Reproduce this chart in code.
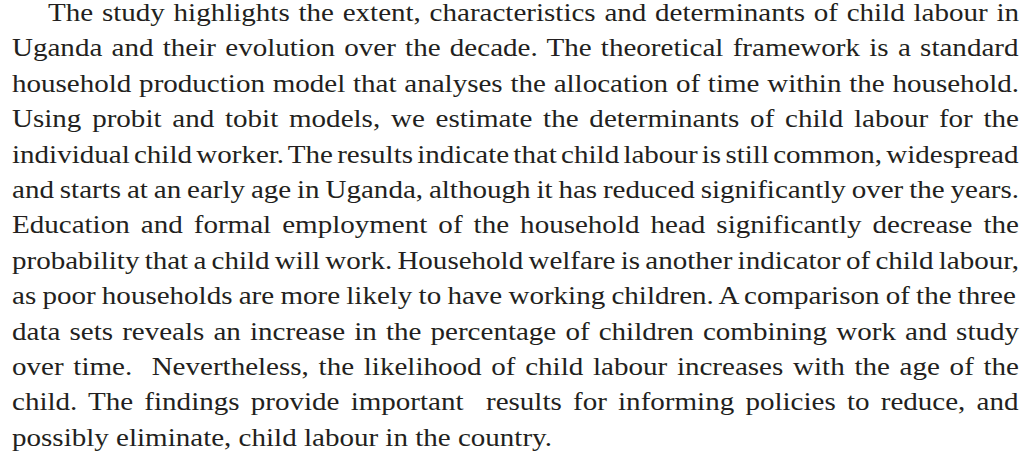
<!DOCTYPE html>
<html>
<head>
<meta charset="utf-8">
<script src="https://cdn.jsdelivr.net/npm/chart.js@4/dist/chart.umd.min.js"></script>
<style>
  html, body { margin: 0; padding: 0; background: #ffffff; }
  body { width: 1029px; height: 457px; overflow: hidden; position: relative; }
  .ln {
    position: absolute; white-space: pre; transform-origin: 0 0;
    font-family: "Liberation Serif", "Times New Roman", serif;
    font-size: 26px; line-height: 35.4px; color: #231f20;
  }
</style>
</head>
<body>
<script>
const lines = [
  "The study highlights the extent, characteristics and determinants of child labour in",
  "Uganda and their evolution over the decade. The theoretical framework is a standard",
  "household production model that analyses the allocation of time within the household.",
  "Using probit and tobit models, we estimate the determinants of child labour for the",
  "individual child worker. The results indicate that child labour is still common, widespread",
  "and starts at an early age in Uganda, although it has reduced significantly over the years.",
  "Education and formal employment of the household head significantly decrease the",
  "probability that a child will work. Household welfare is another indicator of child labour,",
  "as poor households are more likely to have working children. A comparison of the three",
  "data sets reveals an increase in the percentage of children combining work and study",
  "over time.  Nevertheless, the likelihood of child labour increases with the age of the",
  "child. The findings provide important  results for informing policies to reduce, and",
  "possibly eliminate, child labour in the country."
];
const LEFT = 12, RIGHT = 1019, INDENT = 36, LAST_END = 552, TOP = -5, LH = 35.4;
const font = '26px "Liberation Serif"';
const ctx = document.createElement('canvas').getContext('2d');
ctx.font = font;
const lastNat = ctx.measureText(lines[lines.length - 1]).width;
const s = (LAST_END - LEFT) / lastNat;
lines.forEach((t, i) => {
  const d = document.createElement('div');
  d.className = 'ln';
  const x0 = LEFT + (i === 0 ? INDENT : 0);
  d.style.left = x0 + 'px';
  d.style.top = (TOP + i * LH) + 'px';
  let tr = 'scaleX(' + s + ')';
  if (i < lines.length - 1) {
    const nat = ctx.measureText(t).width;
    const spaces = (t.match(/ /g) || []).length;
    const target = (RIGHT - x0) / s;
    let ws = (target - nat) / spaces;
    if (ws < -3) {
      // compress the glyphs slightly rather than collapsing spaces
      const k = target / (nat - 3 * spaces);
      tr = 'scaleX(' + (s * k) + ')';
      ws = -3 / k;
    }
    d.style.wordSpacing = ws + 'px';
  }
  d.style.transform = tr;
  d.textContent = t;
  document.body.appendChild(d);
});
</script>
</body>
</html>
